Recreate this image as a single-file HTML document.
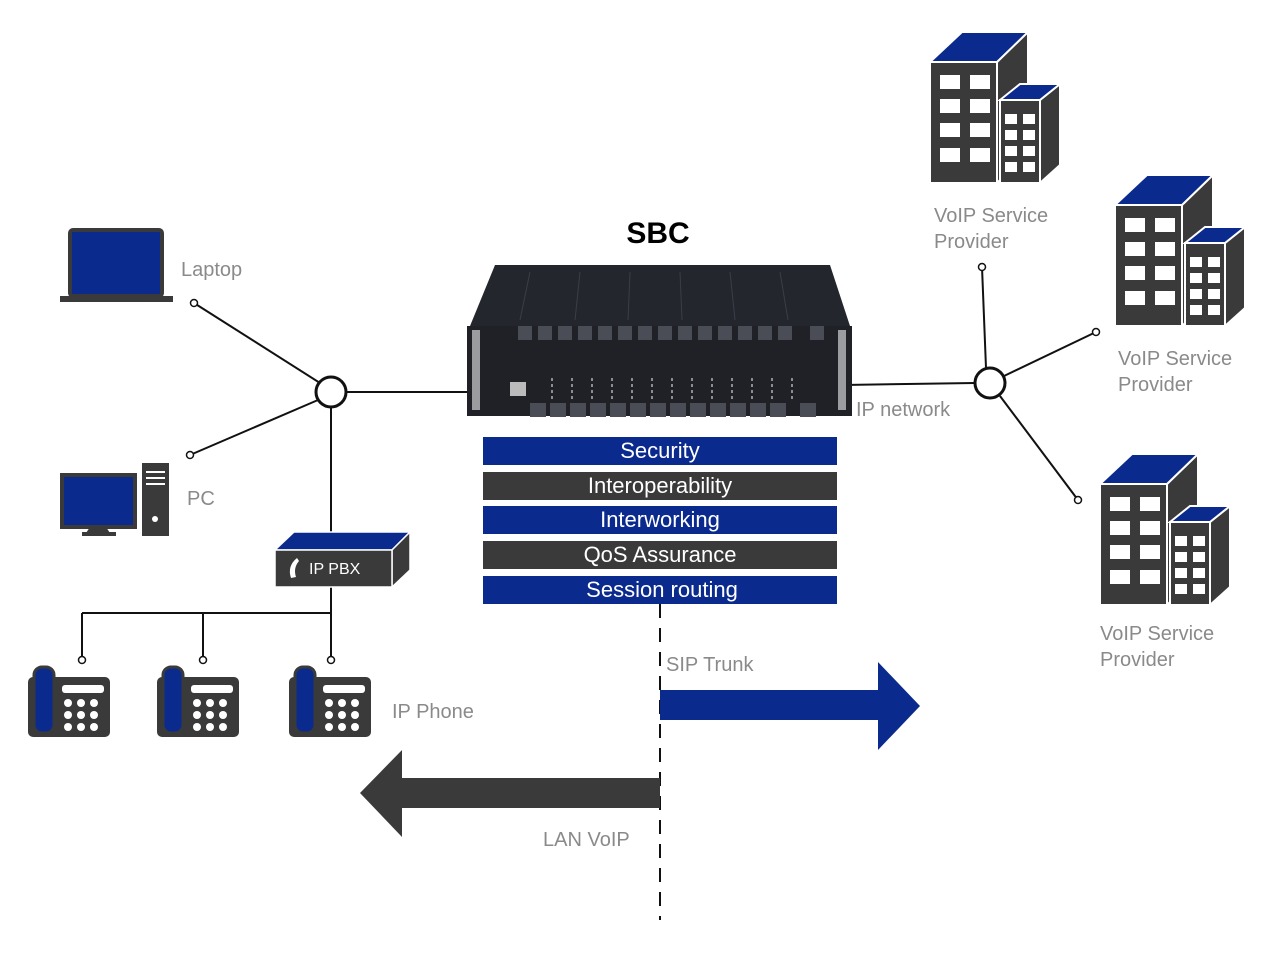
<!DOCTYPE html>
<html><head><meta charset="utf-8"><style>html,body{margin:0;padding:0;background:#fff}svg{display:block}text{font-family:"Liberation Sans",sans-serif}</style></head>
<body>
<svg width="1280" height="974" viewBox="0 0 1280 974" xmlns="http://www.w3.org/2000/svg">
<defs>
<g id="bld">
 <polygon points="67,30 98,0 98,120 67,151" fill="#3a3a3a" stroke="#fff" stroke-width="2"/>
 <polygon points="0,30 32,0 98,0 67,30" fill="#0b2a8e" stroke="#fff" stroke-width="2"/>
 <rect x="0" y="30" width="67" height="121" fill="#3a3a3a" stroke="#fff" stroke-width="2"/>
 <g fill="#fff">
  <rect x="10" y="43" width="20" height="14"/><rect x="40" y="43" width="20" height="14"/>
  <rect x="10" y="67" width="20" height="14"/><rect x="40" y="67" width="20" height="14"/>
  <rect x="10" y="91" width="20" height="14"/><rect x="40" y="91" width="20" height="14"/>
  <rect x="10" y="116" width="20" height="14"/><rect x="40" y="116" width="20" height="14"/>
 </g>
 <polygon points="110,68 130,52 130,133 110,151" fill="#3a3a3a" stroke="#fff" stroke-width="2"/>
 <polygon points="70,68 90,52 130,52 110,68" fill="#0b2a8e" stroke="#fff" stroke-width="2"/>
 <rect x="70" y="68" width="40" height="83" fill="#3a3a3a" stroke="#fff" stroke-width="2"/>
 <g fill="#fff">
  <rect x="75" y="82" width="12" height="10"/><rect x="93" y="82" width="12" height="10"/>
  <rect x="75" y="98" width="12" height="10"/><rect x="93" y="98" width="12" height="10"/>
  <rect x="75" y="114" width="12" height="10"/><rect x="93" y="114" width="12" height="10"/>
  <rect x="75" y="130" width="12" height="10"/><rect x="93" y="130" width="12" height="10"/>
 </g>
</g>
<g id="phone">
 <rect x="0" y="10" width="82" height="60" rx="5" fill="#3a3a3a"/>
 <rect x="6" y="0" width="20" height="66" rx="8" fill="#0b2a8e" stroke="#3a3a3a" stroke-width="3"/>
 <rect x="34" y="18" width="42" height="8" rx="3" fill="#fff"/>
 <g fill="#fff">
  <circle cx="40" cy="36" r="4"/><circle cx="53" cy="36" r="4"/><circle cx="66" cy="36" r="4"/>
  <circle cx="40" cy="48" r="4"/><circle cx="53" cy="48" r="4"/><circle cx="66" cy="48" r="4"/>
  <circle cx="40" cy="60" r="4"/><circle cx="53" cy="60" r="4"/><circle cx="66" cy="60" r="4"/>
 </g>
</g>
</defs>

<use href="#bld" x="930" y="32"/>
<use href="#bld" x="1115" y="175"/>
<use href="#bld" x="1100" y="454"/>

<g font-size="20" fill="#8a8a8a">
<text x="934" y="222">VoIP Service</text><text x="934" y="248">Provider</text>
<text x="1118" y="365">VoIP Service</text><text x="1118" y="391">Provider</text>
<text x="1100" y="640">VoIP Service</text><text x="1100" y="666">Provider</text>
<text x="856" y="416">IP network</text>
<text x="181" y="276">Laptop</text>
<text x="187" y="505">PC</text>
<text x="392" y="718">IP Phone</text>
<text x="666" y="671">SIP Trunk</text>
<text x="543" y="846">LAN VoIP</text>
</g>
<text x="658" y="243" font-size="30" font-weight="bold" text-anchor="middle" fill="#000">SBC</text>

<!-- lines -->
<g stroke="#111" stroke-width="2" fill="none">
<line x1="194" y1="303" x2="320" y2="383"/>
<line x1="190" y1="455" x2="318" y2="400"/>
<line x1="346" y1="392" x2="485" y2="392"/>
<line x1="331" y1="407" x2="331" y2="533"/>
<line x1="331" y1="587" x2="331" y2="660"/>
<line x1="82" y1="613" x2="331" y2="613"/>
<line x1="82" y1="613" x2="82" y2="660"/>
<line x1="203" y1="613" x2="203" y2="660"/>
<line x1="843" y1="385" x2="975" y2="383"/>
<line x1="982" y1="267" x2="986" y2="368"/>
<line x1="1096" y1="332" x2="1004" y2="376"/>
<line x1="1078" y1="500" x2="1000" y2="396"/>
<line x1="660" y1="604" x2="660" y2="920" stroke-dasharray="14,10"/>
</g>
<circle cx="331" cy="392" r="15" fill="#fff" stroke="#111" stroke-width="3"/>
<circle cx="990" cy="383" r="15" fill="#fff" stroke="#111" stroke-width="3"/>
<g fill="#fff" stroke="#111" stroke-width="1.5">
<circle cx="194" cy="303" r="3.5"/><circle cx="190" cy="455" r="3.5"/>
<circle cx="82" cy="660" r="3.5"/><circle cx="203" cy="660" r="3.5"/><circle cx="331" cy="660" r="3.5"/>
<circle cx="982" cy="267" r="3.5"/><circle cx="1096" cy="332" r="3.5"/><circle cx="1078" cy="500" r="3.5"/>
</g>

<!-- laptop -->
<rect x="70" y="230" width="92" height="66" rx="3" fill="#0b2a8e" stroke="#3a3a3a" stroke-width="4"/>
<rect x="60" y="296" width="113" height="6" fill="#3a3a3a"/>
<!-- PC -->
<rect x="62" y="475" width="73" height="52" fill="#0b2a8e" stroke="#3a3a3a" stroke-width="4"/>
<polygon points="90,527 106,527 110,533 86,533" fill="#3a3a3a"/>
<rect x="82" y="532" width="34" height="4" fill="#3a3a3a"/>
<rect x="142" y="463" width="27" height="73" fill="#3a3a3a"/>
<g stroke="#fff" stroke-width="2"><line x1="146" y1="472" x2="165" y2="472"/><line x1="146" y1="478" x2="165" y2="478"/><line x1="146" y1="484" x2="165" y2="484"/></g>
<circle cx="155" cy="519" r="3" fill="#fff"/>

<!-- IP PBX -->
<polygon points="275,550 294,532 410,532 392,550" fill="#0b2a8e" stroke="#fff" stroke-width="1.5"/>
<polygon points="392,550 410,532 410,570 392,587" fill="#3a3a3a" stroke="#fff" stroke-width="1.5"/>
<rect x="275" y="550" width="117" height="37" fill="#3a3a3a" stroke="#fff" stroke-width="1.5"/>
<path d="M297,558 q-10,8 -6,20 l5,-1 q-3,-9 3,-16 z" fill="#fff"/>
<text x="309" y="574" font-size="16" fill="#fff">IP PBX</text>

<use href="#phone" x="28" y="667"/>
<use href="#phone" x="157" y="667"/>
<use href="#phone" x="289" y="667"/>

<!-- SBC device -->
<polygon points="495,265 830,265 850,326 470,326" fill="#23262d"/>
<g stroke="#3a3e48" stroke-width="1">
<line x1="530" y1="272" x2="520" y2="320"/><line x1="580" y1="272" x2="575" y2="320"/><line x1="630" y1="272" x2="628" y2="320"/><line x1="680" y1="272" x2="682" y2="320"/><line x1="730" y1="272" x2="735" y2="320"/><line x1="780" y1="272" x2="788" y2="320"/>
</g>
<rect x="467" y="326" width="385" height="90" fill="#1f2126"/>
<rect x="472" y="330" width="8" height="80" fill="#9a9ca0"/>
<rect x="838" y="330" width="8" height="80" fill="#9a9ca0"/>
<g fill="#4a4d55">
<rect x="518" y="326" width="14" height="14"/><rect x="538" y="326" width="14" height="14"/><rect x="558" y="326" width="14" height="14"/><rect x="578" y="326" width="14" height="14"/><rect x="598" y="326" width="14" height="14"/><rect x="618" y="326" width="14" height="14"/><rect x="638" y="326" width="14" height="14"/><rect x="658" y="326" width="14" height="14"/><rect x="678" y="326" width="14" height="14"/><rect x="698" y="326" width="14" height="14"/><rect x="718" y="326" width="14" height="14"/><rect x="738" y="326" width="14" height="14"/><rect x="758" y="326" width="14" height="14"/><rect x="778" y="326" width="14" height="14"/><rect x="810" y="326" width="14" height="14"/>
<rect x="530" y="403" width="16" height="14"/><rect x="550" y="403" width="16" height="14"/><rect x="570" y="403" width="16" height="14"/><rect x="590" y="403" width="16" height="14"/><rect x="610" y="403" width="16" height="14"/><rect x="630" y="403" width="16" height="14"/><rect x="650" y="403" width="16" height="14"/><rect x="670" y="403" width="16" height="14"/><rect x="690" y="403" width="16" height="14"/><rect x="710" y="403" width="16" height="14"/><rect x="730" y="403" width="16" height="14"/><rect x="750" y="403" width="16" height="14"/><rect x="770" y="403" width="16" height="14"/><rect x="800" y="403" width="16" height="14"/>
</g>
<g fill="none" stroke="#8a8d94" stroke-width="2" stroke-dasharray="3,3">
<line x1="552" y1="378" x2="552" y2="400"/><line x1="572" y1="378" x2="572" y2="400"/><line x1="592" y1="378" x2="592" y2="400"/><line x1="612" y1="378" x2="612" y2="400"/><line x1="632" y1="378" x2="632" y2="400"/><line x1="652" y1="378" x2="652" y2="400"/><line x1="672" y1="378" x2="672" y2="400"/><line x1="692" y1="378" x2="692" y2="400"/><line x1="712" y1="378" x2="712" y2="400"/><line x1="732" y1="378" x2="732" y2="400"/><line x1="752" y1="378" x2="752" y2="400"/><line x1="772" y1="378" x2="772" y2="400"/><line x1="792" y1="378" x2="792" y2="400"/>
</g>
<rect x="510" y="382" width="16" height="14" fill="#bbb"/>

<!-- bars -->
<rect x="483" y="437" width="354" height="28" fill="#0b2a8e"/>
<rect x="483" y="472" width="354" height="28" fill="#3a3a3a"/>
<rect x="483" y="506" width="354" height="28" fill="#0b2a8e"/>
<rect x="483" y="541" width="354" height="28" fill="#3a3a3a"/>
<rect x="483" y="576" width="354" height="28" fill="#0b2a8e"/>
<g font-size="22" fill="#fff" text-anchor="middle">
<text x="660" y="458">Security</text>
<text x="660" y="493">Interoperability</text>
<text x="660" y="527">Interworking</text>
<text x="660" y="562">QoS Assurance</text>
<text x="662" y="597">Session routing</text>
</g>

<!-- arrows -->
<polygon points="660,690 878,690 878,662 920,706 878,750 878,720 660,720" fill="#0b2a8e"/>
<polygon points="660,778 402,778 402,750 360,793 402,837 402,808 660,808" fill="#3a3a3a"/>
</svg>
</body></html>
